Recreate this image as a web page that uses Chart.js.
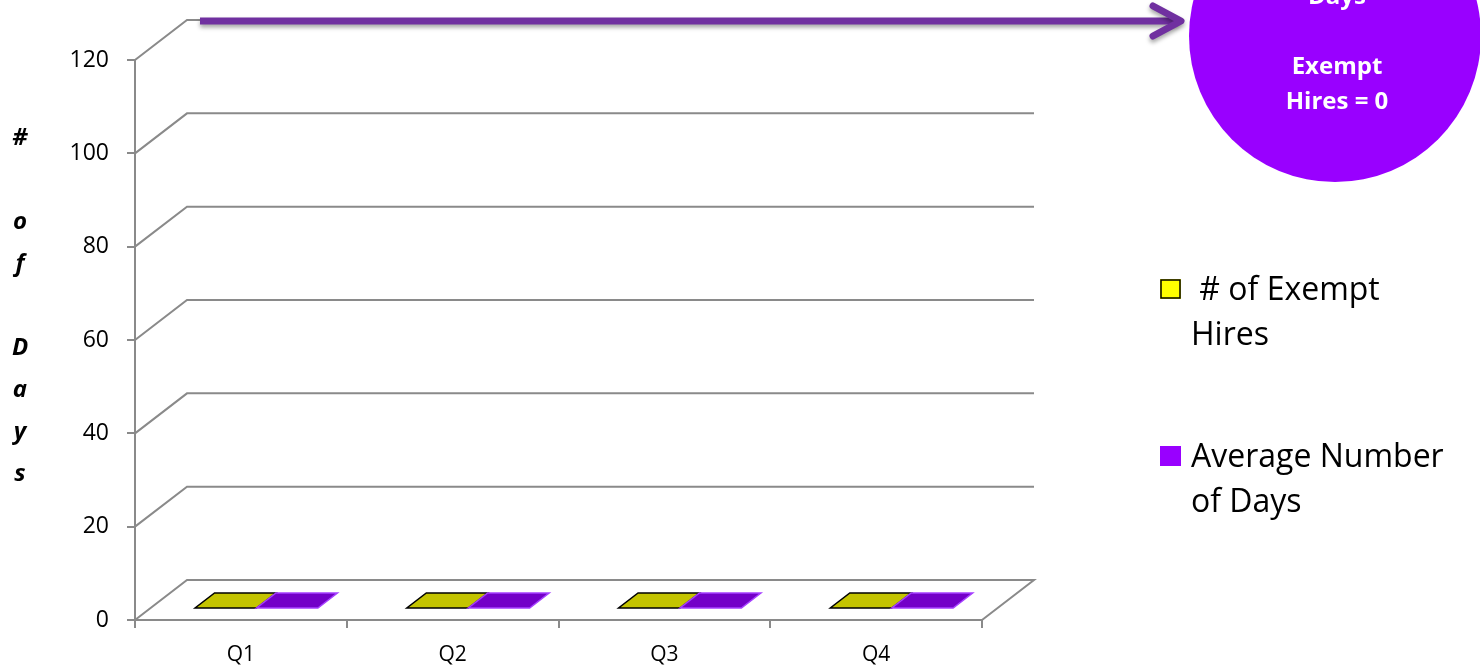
<!DOCTYPE html>
<html>
<head>
<meta charset="utf-8">
<script src="https://cdn.jsdelivr.net/npm/chart.js@4.4.0/dist/chart.umd.min.js"></script>
<style>
html, body { margin: 0; padding: 0; background: #fff; }
#wrap { position: relative; width: 1480px; height: 666px; }
</style>
</head>
<body>
<div id="wrap"><canvas id="hiresChart" width="1480" height="666"></canvas></div>
<script>
// Data
const quarters = ['Q1', 'Q2', 'Q3', 'Q4'];
const exemptHires = [0, 0, 0, 0];
const avgDays = [0, 0, 0, 0];
const yMin = 0, yMax = 120, yStep = 20;

// Texts
const axisTitle = '# of Days';
const legendLines = [[' # of Exempt', 'Hires'], ['Average Number', 'of Days']];
const calloutLines = ['Days', '', 'Exempt', 'Hires = 0'];

const FONT = "'Open Sans', 'Noto Sans', sans-serif";
const GRID = '#8a8a8a';
// depth of the fake 3D box (back wall offset)
const DX = 52, DY = 40;

const box3d = {
    id: 'box3d',
    beforeDatasetsDraw(chart) {
        const { ctx, chartArea: a, scales: { y } } = chart;
        ctx.save();
        ctx.strokeStyle = GRID;
        ctx.lineWidth = 2;
        y.ticks.forEach(t => {
            const py = y.getPixelForValue(t.value);
            ctx.beginPath();
            ctx.moveTo(a.left, py);
            ctx.lineTo(a.left + DX, py - DY);
            ctx.lineTo(a.right + DX, py - DY);
            if (t.value === yMin) ctx.lineTo(a.right, py);
            ctx.stroke();
        });
        ctx.restore();
    },
    afterDatasetsDraw(chart) {
        const { ctx } = chart;
        // bars sit in the middle of the floor depth
        const f0 = 0.3, f1 = 0.675;
        chart.data.datasets.forEach((ds, i) => {
            chart.getDatasetMeta(i).data.forEach(el => {
                const x0 = el.x - el.width / 2 + DX * f0;
                const x1 = x0 + el.width;
                const yt = el.y - DY * f0;
                const yb = el.base - DY * f0;
                const dx = DX * (f1 - f0), dy = DY * (f1 - f0);
                ctx.save();
                ctx.lineWidth = 1.5;
                ctx.strokeStyle = ds.edgeColor;
                // front face
                if (yb - yt > 0.5) {
                    ctx.fillStyle = ds.backgroundColor;
                    ctx.fillRect(x0, yt, x1 - x0, yb - yt);
                    ctx.strokeRect(x0, yt, x1 - x0, yb - yt);
                }
                // top face
                ctx.beginPath();
                ctx.moveTo(x0, yt);
                ctx.lineTo(x1, yt);
                ctx.lineTo(x1 + dx, yt - dy);
                ctx.lineTo(x0 + dx, yt - dy);
                ctx.closePath();
                ctx.fillStyle = ds.topColor;
                ctx.fill();
                ctx.stroke();
                ctx.restore();
            });
        });
    },
    afterDraw(chart) {
        const { ctx } = chart;
        ctx.save();

        // vertical axis title, one character per line
        ctx.fillStyle = '#000';
        ctx.font = `italic bold 24px ${FONT}`;
        ctx.textAlign = 'center';
        ctx.textBaseline = 'middle';
        axisTitle.split('').forEach((c, k) => ctx.fillText(c, 20, 138 + k * 42));

        // legend
        ctx.font = `32px ${FONT}`;
        ctx.textAlign = 'left';
        ctx.textBaseline = 'alphabetic';
        const legendTop = [279, 446];
        chart.data.datasets.forEach((ds, i) => {
            const ty = legendTop[i];
            ctx.fillStyle = ds.backgroundColor;
            ctx.fillRect(1160, ty, 21, 20);
            if (ds.legendBorder) {
                ctx.strokeStyle = ds.legendBorder;
                ctx.lineWidth = 1.5;
                ctx.strokeRect(1161, ty + 1, 19, 18);
            }
            ctx.fillStyle = '#000';
            legendLines[i].forEach((ln, k) => ctx.fillText(ln, 1191, ty + 21 + k * 45));
        });

        // callout arrow
        ctx.shadowColor = 'rgba(0,0,0,0.35)';
        ctx.shadowBlur = 4;
        ctx.shadowOffsetY = 3;
        ctx.strokeStyle = '#7030a0';
        ctx.lineWidth = 7;
        ctx.lineCap = 'butt';
        ctx.beginPath();
        ctx.moveTo(200, 21);
        ctx.lineTo(1178, 21);
        ctx.stroke();
        ctx.lineCap = 'round';
        ctx.lineJoin = 'round';
        ctx.beginPath();
        ctx.moveTo(1153, 6);
        ctx.lineTo(1181, 21);
        ctx.lineTo(1153, 36);
        ctx.stroke();
        ctx.shadowColor = 'transparent';

        // callout bubble
        ctx.fillStyle = '#9900ff';
        ctx.beginPath();
        ctx.arc(1335, 36, 146, 0, Math.PI * 2);
        ctx.fill();
        ctx.fillStyle = '#fff';
        ctx.font = `bold 24px ${FONT}`;
        ctx.textAlign = 'center';
        ctx.textBaseline = 'middle';
        calloutLines.forEach((ln, k) => ctx.fillText(ln, 1337, -3 + k * 35));
        ctx.restore();
    }
};

const ctx = document.getElementById('hiresChart').getContext('2d');
const hiresChart = new Chart(ctx, {
    type: 'bar',
    data: {
        labels: quarters,
        datasets: [{
            label: '# of Exempt Hires',
            data: exemptHires,
            backgroundColor: '#ffff00',
            topColor: '#c4c400',
            edgeColor: '#000',
            legendBorder: '#000',
            borderWidth: 0
        }, {
            label: 'Average Number of Days',
            data: avgDays,
            backgroundColor: '#9900ff',
            topColor: '#7300c8',
            edgeColor: '#a640ff',
            borderWidth: 0
        }]
    },
    options: {
        responsive: false,
        animation: false,
        layout: { padding: { top: 60, right: 498, left: 0, bottom: 0 } },
        datasets: { bar: { categoryPercentage: 0.58, barPercentage: 1 } },
        plugins: { legend: { display: false }, tooltip: { enabled: false } },
        scales: {
            x: {
                grid: { drawOnChartArea: false, drawTicks: true, tickLength: 8, color: GRID, lineWidth: 2, offset: true },
                border: { display: true, color: GRID, width: 2 },
                ticks: { color: '#000', font: { family: FONT, size: 21 }, padding: 14 },
                afterFit(s) { s.height = 46; }
            },
            y: {
                min: yMin,
                max: yMax,
                ticks: { stepSize: yStep, color: '#000', font: { family: FONT, size: 23 }, padding: 18 },
                grid: { drawOnChartArea: false, drawTicks: true, tickLength: 8, color: GRID, lineWidth: 2 },
                border: { display: true, color: GRID, width: 2 },
                afterFit(s) { s.width = 135; }
            }
        }
    },
    plugins: [box3d]
});
</script>
</body>
</html>
